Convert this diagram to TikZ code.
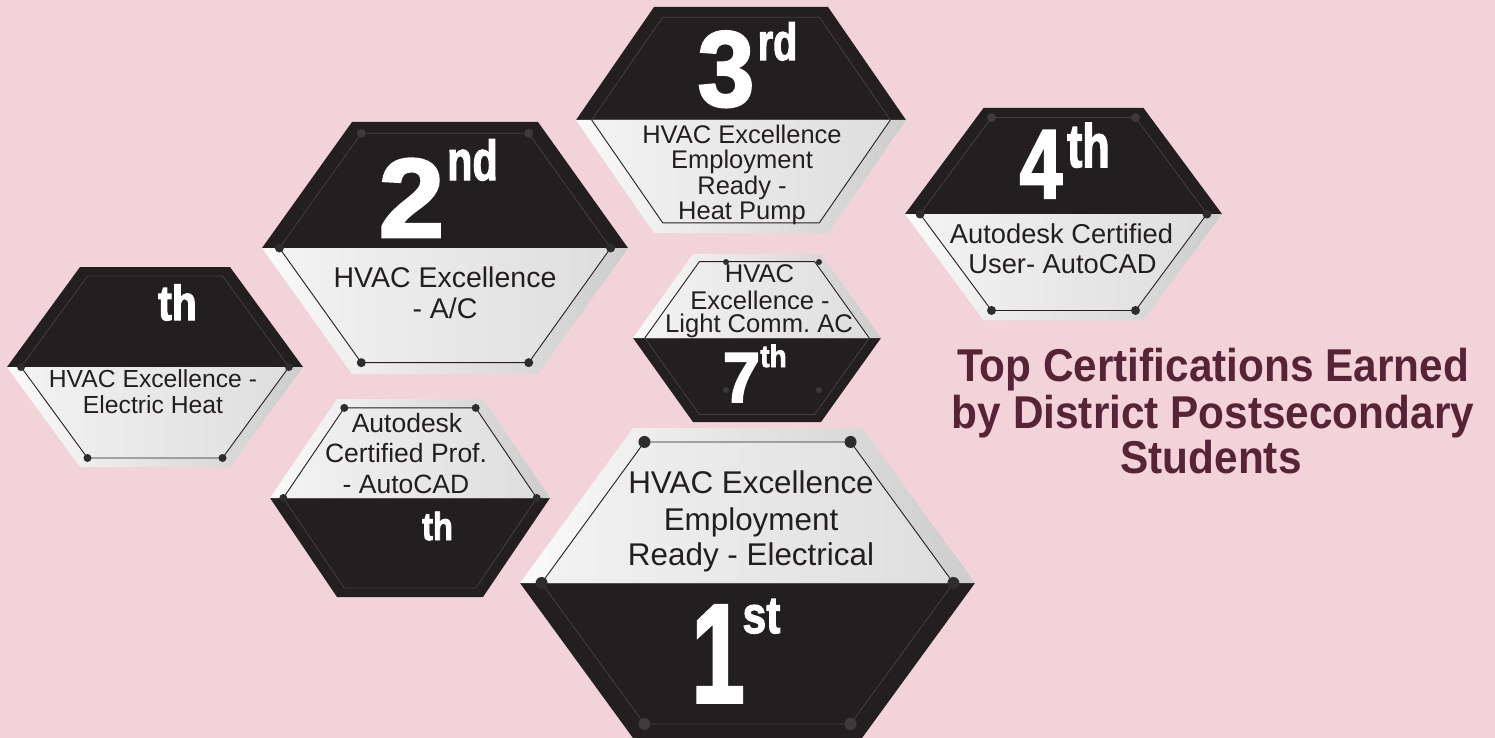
\documentclass[tikz,border=0pt]{standalone}
\usepackage{fontspec}
\setmainfont{Liberation Sans}
\newfontfamily\ordfont[BoldFeatures={FakeBold=2.5}]{Liberation Sans}
\definecolor{bgpink}{RGB}{242,211,217}
\definecolor{hexblack}{RGB}{35,31,32}
\definecolor{inkc}{RGB}{35,31,32}
\definecolor{titlecol}{RGB}{87,35,55}
\definecolor{faintc}{RGB}{66,63,64}
\definecolor{lightA}{RGB}{250,250,250}
\definecolor{lightB}{RGB}{205,205,205}
\definecolor{lightC}{RGB}{242,242,242}
\definecolor{lightD}{RGB}{222,222,222}
\definecolor{dotd}{RGB}{45,45,45}
\definecolor{dotf}{RGB}{60,58,58}
\tikzset{
  innerline/.style={draw=inkc, line width=0.9pt},
  faintline/.style={draw=faintc, line width=0.8pt},
  hextext/.style={anchor=base, inner sep=0pt, text=inkc},
  ordn/.style={anchor=base, inner sep=0pt, text=white},
  titletext/.style={anchor=base, inner sep=0pt, text=titlecol}
}
\newcommand\hexgeom[6]{%
  \coordinate (#1-L) at ({#2-#4},{#3});
  \coordinate (#1-R) at ({#2+#4},{#3});
  \coordinate (#1-TL) at ({#2-#5},{#3-#6});
  \coordinate (#1-TR) at ({#2+#5},{#3-#6});
  \coordinate (#1-BL) at ({#2-#5},{#3+#6});
  \coordinate (#1-BR) at ({#2+#5},{#3+#6});
  \coordinate (#1-iL) at ({#2-0.905*#4},{#3});
  \coordinate (#1-iR) at ({#2+0.905*#4},{#3});
  \coordinate (#1-iTL) at ({#2-0.9*#5},{#3-0.91*#6});
  \coordinate (#1-iTR) at ({#2+0.9*#5},{#3-0.91*#6});
  \coordinate (#1-iBL) at ({#2-0.9*#5},{#3+0.91*#6});
  \coordinate (#1-iBR) at ({#2+0.9*#5},{#3+0.91*#6});
}
\newcommand\hexTop[1]{%
  \fill[hexblack] (#1-L) -- (#1-TL) -- (#1-TR) -- (#1-R) -- cycle;
  \shade[left color=lightA, right color=lightB] (#1-L) -- (#1-BL) -- (#1-BR) -- (#1-R) -- cycle;
  \shade[left color=lightC, right color=lightD] (#1-iL) -- (#1-iBL) -- (#1-iBR) -- (#1-iR) -- cycle;
  \draw[innerline] (#1-iL) -- (#1-iBL) -- (#1-iBR) -- (#1-iR);
  \draw[faintline] (#1-iL) -- (#1-iTL) -- (#1-iTR) -- (#1-iR);
}
\newcommand\hexBot[1]{%
  \fill[hexblack] (#1-L) -- (#1-BL) -- (#1-BR) -- (#1-R) -- cycle;
  \shade[left color=lightA, right color=lightB] (#1-L) -- (#1-TL) -- (#1-TR) -- (#1-R) -- cycle;
  \shade[left color=lightC, right color=lightD] (#1-iL) -- (#1-iTL) -- (#1-iTR) -- (#1-iR) -- cycle;
  \draw[innerline] (#1-iL) -- (#1-iTL) -- (#1-iTR) -- (#1-iR);
  \draw[faintline] (#1-iL) -- (#1-iBL) -- (#1-iBR) -- (#1-iR);
}
\newcommand\fs[2]{\fontsize{#1}{#2}\selectfont}
\newcommand\ordtxt[3]{\scalebox{#1}[1]{\fs{#2}{#2}\ordfont\bfseries #3}}
\frenchspacing
\begin{document}
\begin{tikzpicture}[x=1pt,y=-1pt]
\useasboundingbox (0,0) rectangle (1495,738);
\fill[bgpink] (0,0) rectangle (1495,738);

% geometry
\hexgeom{h3}{741}{120}{165}{87}{113}
\hexgeom{h2}{445}{248}{183}{93}{126}
\hexgeom{h5}{155}{367}{148}{75}{100}
\hexgeom{h6}{410}{498}{140}{73}{99}
\hexgeom{h1}{747.5}{583}{227.5}{114.5}{155}
\hexgeom{h4}{1063.5}{214}{158.5}{80}{106}
\hexgeom{h7}{757}{338}{124}{64}{84}

% bodies
\hexTop{h3}
\hexTop{h2}
\hexTop{h5}
\hexTop{h4}
\hexBot{h6}
\hexBot{h1}
\hexBot{h7}

% dots
\foreach \c in {h2-iL,h2-iR,h2-iBL,h2-iBR} \fill[dotd] (\c) circle[radius=4.5pt];
\foreach \c in {h2-iTL,h2-iTR} \fill[dotf] (\c) circle[radius=4.5pt];
\foreach \c in {h5-iL,h5-iR,h5-iBL,h5-iBR} \fill[dotd] (\c) circle[radius=4pt];
\foreach \c in {h4-iL,h4-iR,h4-iBL,h4-iBR} \fill[dotd] (\c) circle[radius=4.5pt];
\foreach \c in {h4-iTL,h4-iTR} \fill[dotf] (\c) circle[radius=4.5pt];
\foreach \c in {h6-iL,h6-iR,h6-iTL,h6-iTR} \fill[dotd] (\c) circle[radius=4pt];
\foreach \c in {h1-iL,h1-iR,h1-iTL,h1-iTR} \fill[dotd] (\c) circle[radius=6pt];
\foreach \c in {h1-iBL,h1-iBR} \fill[dotf] (\c) circle[radius=6pt];
\fill[dotd] (726,262) circle[radius=3pt];
\fill[dotd] (819,262) circle[radius=3pt];
\fill[dotf] (726,390) circle[radius=3pt];
\fill[dotf] (819,390) circle[radius=3pt];

% texts
\node[hextext, font=\fs{25.5}{26}] (t3a) at (742,144) {HVAC Excellence};
\node[hextext, font=\fs{25.5}{26}] (t3b) at (742,169) {Employment};
\node[hextext, font=\fs{25.5}{26}] (t3c) at (742,194) {Ready -};
\node[hextext, font=\fs{25.5}{26}] (t3d) at (742,219) {Heat Pump};

\node[hextext, font=\fs{28.5}{30}] (t2a) at (445,287) {HVAC Excellence};
\node[hextext, font=\fs{28.5}{30}] (t2b) at (445,318) {- A/C};

\node[hextext, font=\fs{24.7}{26}] (t5a) at (153,387) {HVAC Excellence -};
\node[hextext, font=\fs{24.7}{26}] (t5b) at (153,413) {Electric Heat};

\node[hextext, font=\fs{26.5}{28}] (t6a) at (407,432) {Autodesk};
\node[hextext, font=\fs{26.5}{28}] (t6b) at (406,462) {Certified Prof.};
\node[hextext, font=\fs{26.5}{28}] (t6c) at (406,493) {- AutoCAD};

\node[hextext, font=\fs{31.4}{33}] (t1a) at (751,493) {HVAC Excellence};
\node[hextext, font=\fs{31.4}{33}] (t1b) at (751,530) {Employment};
\node[hextext, font=\fs{31.4}{33}] (t1c) at (751,565) {Ready - Electrical};

\node[hextext, font=\fs{25.6}{26}] (t7a) at (759.5,282) {HVAC};
\node[hextext, font=\fs{25.6}{26}] (t7b) at (760,309) {Excellence -};
\node[hextext, font=\fs{25.6}{26}] (t7c) at (759,332) {Light Comm. AC};

\node[hextext, font=\fs{27.3}{29}] (t4a) at (1061.5,243) {Autodesk Certified};
\node[hextext, font=\fs{27.3}{29}] (t4b) at (1062.5,273) {User- AutoCAD};

% ordinals
\node[ordn] (o2) at (411.5,237) {\ordtxt{1.05}{112}{2}};
\node[ordn] (o2s) at (472.5,180) {\ordtxt{0.74}{56}{nd}};
\node[ordn] (o3) at (726,106) {\ordtxt{0.95}{107}{3}};
\node[ordn] (o3s) at (777.5,60) {\ordtxt{0.76}{52}{rd}};
\node[ordn] (o1) at (718,702) {\ordtxt{0.68}{140}{1}};
\node[ordn] (o1s) at (761.5,633) {\ordtxt{0.82}{52}{st}};
\node[ordn] (o4) at (1041,198) {\ordtxt{0.78}{98}{4}};
\node[ordn] (o4s) at (1088.5,167) {\ordtxt{0.74}{61}{th}};
\node[ordn] (o7) at (741.5,402) {\ordtxt{0.95}{71}{7}};
\node[ordn] (o7s) at (773.5,367) {\ordtxt{0.9}{31}{th}};
\node[ordn] (o5s) at (177.5,320) {\ordtxt{0.84}{49}{th}};
\node[ordn] (o6s) at (437.5,540) {\ordtxt{0.84}{39}{th}};

% title
\node[titletext] (ti1) at (1213,381) {\scalebox{0.92}[1]{\fs{46}{46}\bfseries Top Certifications Earned}};
\node[titletext] (ti2) at (1213,428) {\scalebox{0.92}[1]{\fs{46}{46}\bfseries by District Postsecondary}};
\node[titletext] (ti3) at (1211,473) {\scalebox{0.92}[1]{\fs{46}{46}\bfseries Students}};
\end{tikzpicture}
\end{document}
